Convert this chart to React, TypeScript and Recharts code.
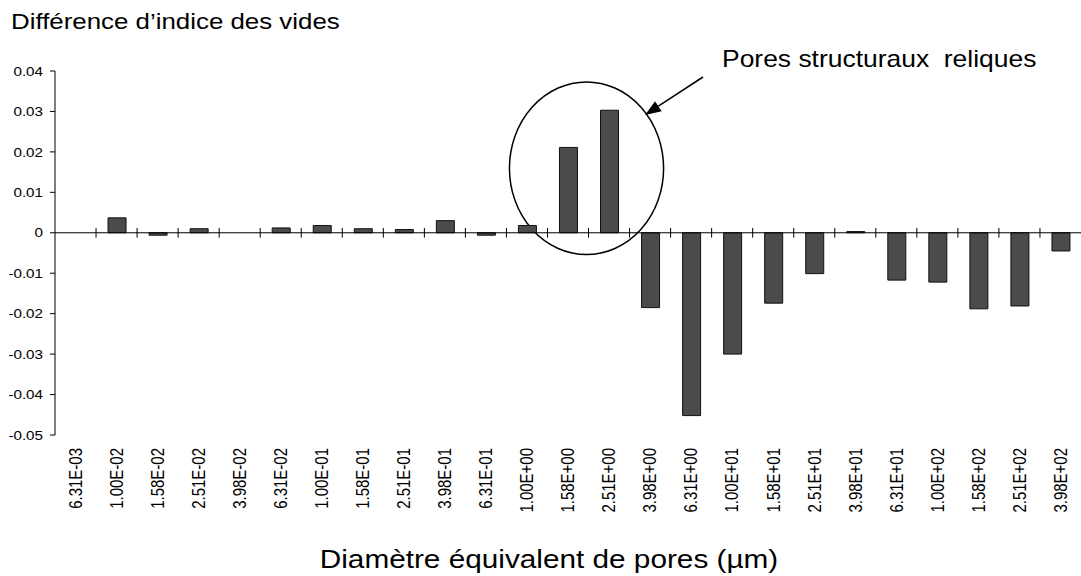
import { BarChart, Bar, XAxis, YAxis, ReferenceLine, ReferenceArea } from 'recharts'

// pore diameter classes (µm), as printed on the axis
const diameters = [
  '6.31E-03', '1.00E-02', '1.58E-02', '2.51E-02', '3.98E-02', '6.31E-02', '1.00E-01', '1.58E-01',
  '2.51E-01', '3.98E-01', '6.31E-01', '1.00E+00', '1.58E+00', '2.51E+00', '3.98E+00', '6.31E+00',
  '1.00E+01', '1.58E+01', '2.51E+01', '3.98E+01', '6.31E+01', '1.00E+02', '1.58E+02', '2.51E+02',
  '3.98E+02',
]

// void ratio difference per class (null = nothing drawn)
const voidDiff: (number | null)[] = [
  null, 0.0037, -0.0006, 0.001, null, 0.0012, 0.0018, 0.001,
  0.0008, 0.003, -0.0006, 0.0018, 0.0211, 0.0303, -0.0185, -0.0452,
  -0.03, -0.0174, -0.0101, 0.0003, -0.0117, -0.0122, -0.0188, -0.0181,
  -0.0045,
]

const yTicks = [0.04, 0.03, 0.02, 0.01, 0, -0.01, -0.02, -0.03, -0.04, -0.05]

const FONT = '"Liberation Sans", Arial, sans-serif'
const SX = 1.17 // the original figure is stretched horizontally

const data = diameters.map((d, i) => ({ d, v: voidDiff[i] }))

function XTick({ x, y, payload }: any) {
  return (
    <text
      transform={`translate(${x},${y}) rotate(-90) scale(1,${SX})`}
      textAnchor="end"
      dy="0.36em"
      fontSize={15}
      fontFamily={FONT}
      fill="#000"
    >
      {payload.value}
    </text>
  )
}

function YTick({ x, y, payload }: any) {
  const v = payload.value
  return (
    <text
      transform={`translate(${x},${y}) scale(${SX},1)`}
      textAnchor="end"
      dy="0.36em"
      fontSize={13}
      fontFamily={FONT}
      fill="#000"
    >
      {v === 0 ? '0' : v.toFixed(2)}
    </text>
  )
}

function Ellipse(p: any) {
  return (
    <ellipse
      cx={p.x + p.width / 2 - 2}
      cy={p.y + p.height / 2}
      rx={p.width / 2 - 5}
      ry={p.height / 2}
      fill="none"
      stroke="#000"
      strokeWidth={1.5}
    />
  )
}

// arrow pointing at the circled bars
const arrowFrom = [703, 77]
const arrowTip = [645, 115]

function Arrow() {
  const dx = arrowTip[0] - arrowFrom[0]
  const dy = arrowTip[1] - arrowFrom[1]
  const len = Math.hypot(dx, dy)
  const ux = dx / len
  const uy = dy / len
  const bx = arrowTip[0] - ux * 16
  const by = arrowTip[1] - uy * 16
  const px = -uy * 6
  const py = ux * 6
  return (
    <g>
      <line x1={arrowFrom[0]} y1={arrowFrom[1]} x2={bx} y2={by} stroke="#000" strokeWidth={1.5} />
      <polygon points={`${arrowTip[0]},${arrowTip[1]} ${bx + px},${by + py} ${bx - px},${by - py}`} fill="#000" />
    </g>
  )
}

export default function App() {
  return (
    <div style={{ position: 'absolute', left: 0, top: 0, width: 1081, height: 576, background: '#fff' }}>
      <BarChart
        width={1081}
        height={576}
        data={data}
        margin={{ top: 71, right: 0, left: 0, bottom: 0 }}
        barSize={18}
      >
        <XAxis
          dataKey="d"
          interval={0}
          axisLine={false}
          tickLine={false}
          tickSize={0}
          tickMargin={13}
          height={141}
          tick={<XTick />}
        />
        <YAxis
          domain={[-0.05, 0.04]}
          ticks={yTicks}
          width={55}
          tickSize={5}
          tickMargin={7}
          axisLine={{ stroke: '#000' }}
          tickLine={{ stroke: '#000' }}
          tick={<YTick />}
          allowDataOverflow
        />
        <ReferenceLine y={0} stroke="#000" strokeWidth={1} />
        {diameters.slice(1).map((d) => (
          <ReferenceLine
            key={d}
            segment={[{ x: d, y: 0.0012 }, { x: d, y: -0.0012 }]}
            position="start"
            stroke="#000"
            ifOverflow="visible"
          />
        ))}
        <Bar dataKey="v" fill="#4b4b4b" stroke="#111" strokeWidth={1} isAnimationActive={false} />
        <ReferenceArea
          x1="1.00E+00"
          x2="3.98E+00"
          y1={-0.0054}
          y2={0.0373}
          shape={<Ellipse />}
          ifOverflow="visible"
        />
      </BarChart>
      <svg
        width={1081}
        height={576}
        style={{ position: 'absolute', left: 0, top: 0, pointerEvents: 'none' }}
      >
        <text transform={`translate(11,29) scale(1.15,1)`} fontSize={22.5} fontFamily={FONT} fill="#000">
          Différence d’indice des vides
        </text>
        <text transform={`translate(722,67) scale(1.15,1)`} fontSize={23} fontFamily={FONT} fill="#000" style={{ whiteSpace: 'pre' }}>
          Pores structuraux  reliques
        </text>
        <text transform={`translate(549,568) scale(1.19,1)`} textAnchor="middle" fontSize={25} fontFamily={FONT} fill="#000">
          Diamètre équivalent de pores (µm)
        </text>
        <Arrow />
      </svg>
    </div>
  )
}
